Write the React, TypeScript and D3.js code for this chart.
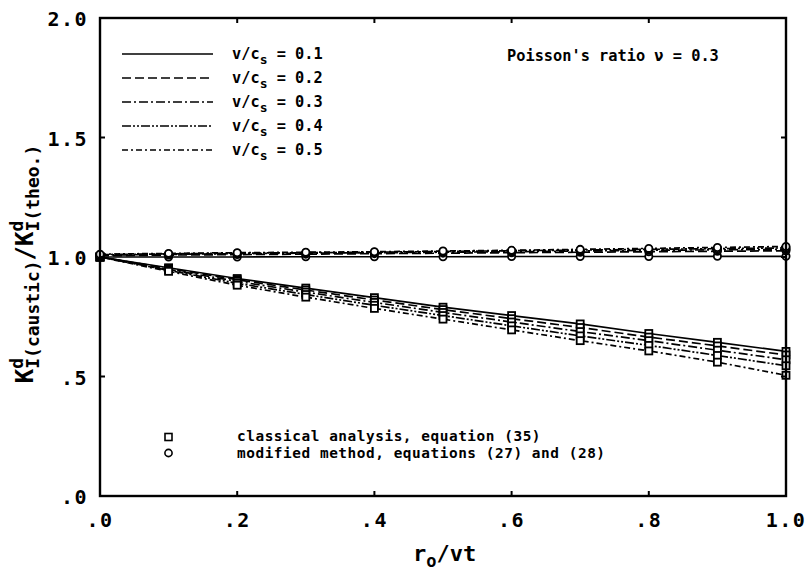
import React from 'react';
import * as d3 from 'd3';

// r_o / vt
const ratioX = [0, 0.1, 0.2, 0.3, 0.4, 0.5, 0.6, 0.7, 0.8, 0.9, 1.0];

const speedLabels = ['0.1', '0.2', '0.3', '0.4', '0.5'];

// classical analysis, equation (35)
const classical01 = [1.0, 0.955, 0.91, 0.87, 0.83, 0.79, 0.755, 0.72, 0.68, 0.643, 0.605];
const classical02 = [1.0, 0.952, 0.905, 0.862, 0.82, 0.78, 0.742, 0.705, 0.665, 0.628, 0.59];
const classical03 = [1.0, 0.948, 0.898, 0.853, 0.81, 0.768, 0.728, 0.688, 0.65, 0.61, 0.57];
const classical04 = [1.0, 0.944, 0.89, 0.843, 0.798, 0.755, 0.712, 0.67, 0.63, 0.588, 0.545];
const classical05 = [1.0, 0.94, 0.882, 0.832, 0.785, 0.74, 0.695, 0.65, 0.607, 0.56, 0.505];

// modified method, equations (27) and (28)
const modified01 = [1.0, 1.0, 1.0, 1.001, 1.001, 1.001, 1.002, 1.002, 1.002, 1.003, 1.003];
const modified02 = [1.005, 1.008, 1.01, 1.012, 1.014, 1.016, 1.018, 1.02, 1.022, 1.024, 1.026];
const modified03 = [1.008, 1.011, 1.014, 1.016, 1.018, 1.02, 1.022, 1.025, 1.028, 1.03, 1.032];
const modified04 = [1.01, 1.013, 1.016, 1.018, 1.02, 1.023, 1.026, 1.029, 1.032, 1.035, 1.038];
const modified05 = [1.012, 1.015, 1.018, 1.02, 1.022, 1.025, 1.028, 1.032, 1.036, 1.04, 1.044];

const classicalSeries = [classical01, classical02, classical03, classical04, classical05];
const modifiedSeries = [modified01, modified02, modified03, modified04, modified05];

const xTickValues = [0, 0.2, 0.4, 0.6, 0.8, 1.0];
const xTickLabels = ['.0', '.2', '.4', '.6', '.8', '1.0'];
const yTickValues = [0, 0.5, 1.0, 1.5, 2.0];
const yTickLabels = ['.0', '.5', '1.0', '1.5', '2.0'];

const dashes = ['none', '9,4', '9,3,2,3', '9,2,2,2,2,2', '6,3,2,3'];

const W = 805;
const H = 573;
const margin = { left: 100, right: 19, top: 18, bottom: 77 };
const FONT = "'DejaVu Sans Mono', monospace";

export default function App() {
  const x = d3.scaleLinear().domain([0, 1]).range([margin.left, W - margin.right]);
  const y = d3.scaleLinear().domain([0, 2]).range([H - margin.bottom, margin.top]);

  const line = d3.line<number>()
    .x((d, i) => x(ratioX[i]))
    .y(d => y(d));

  const x0 = x(0), x1 = x(1), y0 = y(0), y1 = y(2);

  return (
    <svg width={W} height={H} style={{ position: 'absolute', left: 0, top: 0, background: '#fff' }}
      fontFamily={FONT} fontWeight="bold">
      {/* data lines */}
      {classicalSeries.map((s, k) => (
        <path key={'c' + k} d={line(s) || ''} fill="none" stroke="#000" strokeWidth={1.7}
          strokeDasharray={dashes[k]} />
      ))}
      {modifiedSeries.map((s, k) => (
        <path key={'m' + k} d={line(s) || ''} fill="none" stroke="#000" strokeWidth={1.7}
          strokeDasharray={dashes[k]} />
      ))}

      {/* markers */}
      {classicalSeries.map((s, k) => s.map((v, i) => (
        <rect key={'cs' + k + '-' + i} x={x(ratioX[i]) - 3.5} y={y(v) - 3.5} width={7} height={7}
          fill="#fff" stroke="#000" strokeWidth={1.8} />
      )))}
      {modifiedSeries.map((s, k) => s.map((v, i) => (
        <circle key={'ms' + k + '-' + i} cx={x(ratioX[i])} cy={y(v)} r={3.6}
          fill="#fff" stroke="#000" strokeWidth={1.8} />
      )))}

      {/* frame */}
      <rect x={x0} y={y1} width={x1 - x0} height={y0 - y1} fill="none" stroke="#000" strokeWidth={2.4} />

      {/* ticks (inward, all sides) */}
      {xTickValues.slice(1, -1).map(t => (
        <g key={'xt' + t}>
          <line x1={x(t)} x2={x(t)} y1={y0} y2={y0 - 5} stroke="#000" strokeWidth={2} />
          <line x1={x(t)} x2={x(t)} y1={y1} y2={y1 + 5} stroke="#000" strokeWidth={2} />
        </g>
      ))}
      {yTickValues.slice(1, -1).map(t => (
        <g key={'yt' + t}>
          <line x1={x0} x2={x0 + 5} y1={y(t)} y2={y(t)} stroke="#000" strokeWidth={2} />
          <line x1={x1} x2={x1 - 5} y1={y(t)} y2={y(t)} stroke="#000" strokeWidth={2} />
        </g>
      ))}

      {/* tick labels */}
      {xTickValues.map((t, i) => (
        <text key={'xl' + t} x={x(t)} y={527} textAnchor="middle" fontSize={20} letterSpacing={1.5}>
          {xTickLabels[i]}
        </text>
      ))}
      {yTickValues.map((t, i) => (
        <text key={'yl' + t} x={88} y={y(t) + 8} textAnchor="end" fontSize={20} letterSpacing={1.5}>
          {yTickLabels[i]}
        </text>
      ))}

      {/* x axis title */}
      <text x={413} y={561} fontSize={22}>
        r<tspan fontSize={17} dy={6}>o</tspan><tspan dy={-6}>/vt</tspan>
      </text>

      {/* y axis title */}
      <text transform={`translate(33,264) rotate(-90)`} textAnchor="middle" fontSize={24}>
        K<tspan fontSize={18} dy={-10}>d</tspan><tspan fontSize={18} dx={-10.8} dy={16}>I(caustic)</tspan>
        <tspan dy={-6}>/</tspan>K<tspan fontSize={18} dy={-10}>d</tspan>
        <tspan fontSize={18} dx={-10.8} dy={16}>I(theo.)</tspan>
      </text>

      {/* line style legend */}
      {speedLabels.map((lab, k) => {
        const ly = 54 + k * 24;
        return (
          <g key={'lg' + k}>
            <line x1={122} x2={213} y1={ly} y2={ly} stroke="#000" strokeWidth={1.6} strokeDasharray={dashes[k]} />
            <text x={232} y={ly + 5} fontSize={15.3}>
              v/c<tspan fontSize={13} dy={5}>s</tspan><tspan dy={-5}> = {lab}</tspan>
            </text>
          </g>
        );
      })}

      <text x={507} y={61} fontSize={15.3}>Poisson's ratio ν = 0.3</text>

      {/* marker legend */}
      <rect x={165} y={433.5} width={7} height={7} fill="#fff" stroke="#000" strokeWidth={1.6} />
      <circle cx={168.5} cy={453} r={3.6} fill="#fff" stroke="#000" strokeWidth={1.6} />
      <text x={237} y={441} fontSize={14.4} letterSpacing={0.55}>classical analysis, equation (35)</text>
      <text x={237} y={458} fontSize={14.4} letterSpacing={0.55}>modified method, equations (27) and (28)</text>
    </svg>
  );
}
